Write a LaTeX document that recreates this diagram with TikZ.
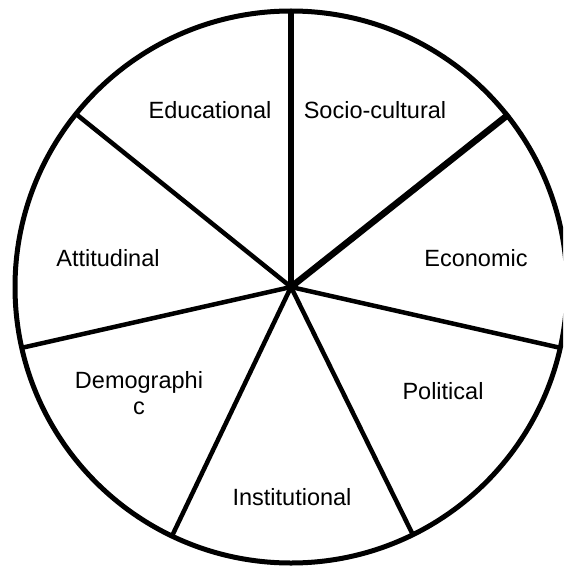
\documentclass[tikz,border=0pt]{standalone}
\usepackage{fontspec}
\setmainfont{Liberation Sans}
\begin{document}
\begin{tikzpicture}[x=1pt,y=-1pt,
  spoke/.style={line width=4.5pt},
  heavy/.style={line width=6.5pt},
  lab/.style={font=\fontsize{23.5}{26}\selectfont, align=center, inner sep=0pt}]
\useasboundingbox (0,0) rectangle (563,567);
\clip (0,0) rectangle (563,567);
\coordinate (h) at (291,287);
\node[circle, draw, line width=5pt, minimum size=552pt, inner sep=0pt] (wheel) at (h) {};
\coordinate (e1) at (291,11);
\coordinate (e2) at (509,114);
\coordinate (e3) at (561,348);
\coordinate (e4) at (413,535);
\coordinate (e5) at (172,536);
\coordinate (e6) at (21,348);
\coordinate (e7) at (76,114);
\draw[heavy] (h) -- (e1);
\draw[heavy] (h) -- (e2);
\draw[spoke] (h) -- (e3);
\draw[spoke] (h) -- (e4);
\draw[spoke] (h) -- (e5);
\draw[spoke] (h) -- (e6);
\draw[spoke] (h) -- (e7);
\node[lab] (edu) at (210,110) {Educational};
\node[lab] (soc) at (375,110) {Socio-cultural};
\node[lab] (eco) at (476,258) {Economic};
\node[lab] (att) at (108,258) {Attitudinal};
\node[lab] (dem) at (139,393) {Demographi\\c};
\node[lab] (pol) at (443,391) {Political};
\node[lab] (ins) at (292,497) {Institutional};
\end{tikzpicture}
\end{document}
